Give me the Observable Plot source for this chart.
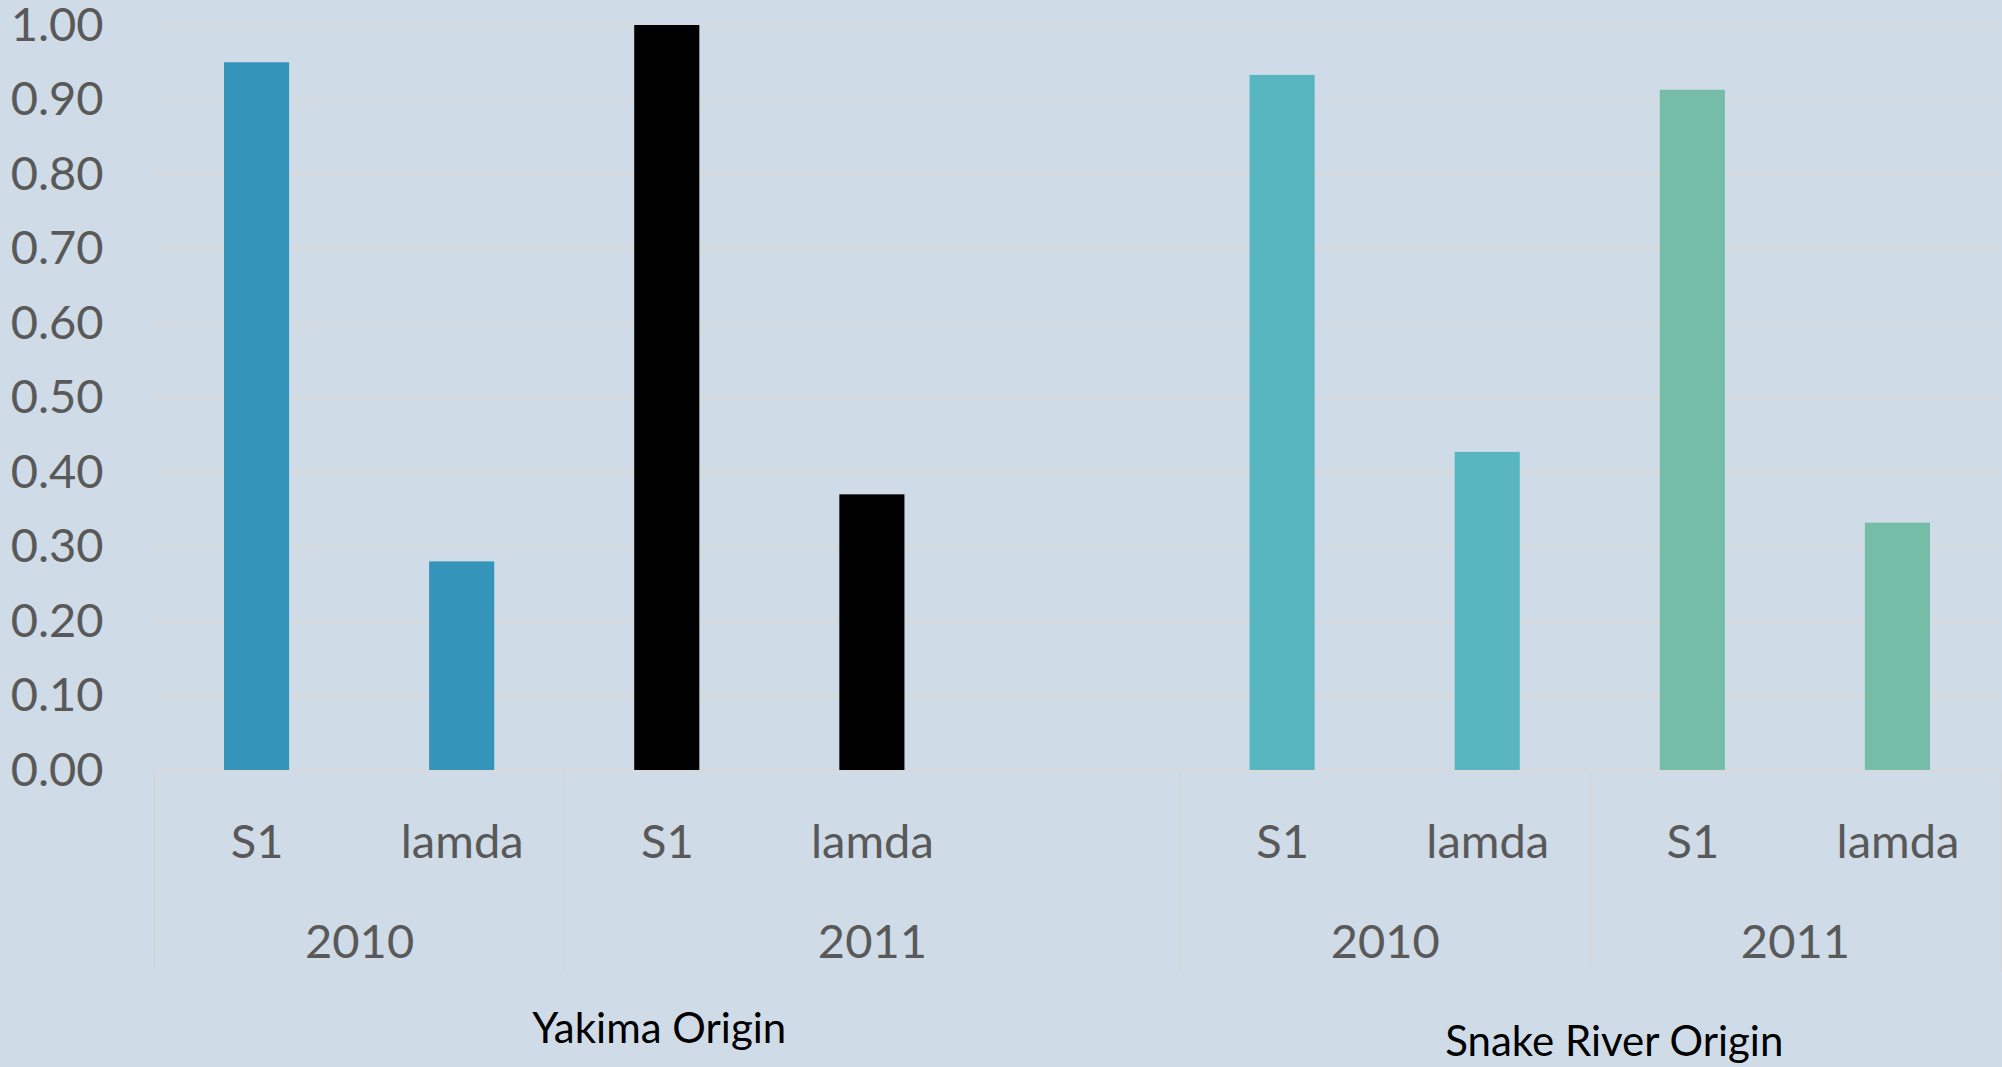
<!DOCTYPE html>
<html>
<head>
<meta charset="utf-8">
<script src="https://cdn.jsdelivr.net/npm/d3@7"></script>
<script src="https://cdn.jsdelivr.net/npm/@observablehq/plot@0.6"></script>
<style>
  html, body { margin: 0; padding: 0; background: #cfdbe6; }
  #chart { width: 2002px; height: 1067px; overflow: hidden; }
</style>
</head>
<body>
<div id="chart"></div>
<script>
// ---- data ----
const slotParam  = ["S1", "lamda", "S1", "lamda", "", "S1", "lamda", "S1", "lamda"];
const slotYear   = ["2010", "2010", "2011", "2011", "2011", "2010", "2010", "2011", "2011"];
const slotOrigin = ["Yakima Origin", "Yakima Origin", "Yakima Origin", "Yakima Origin", "Yakima Origin",
                    "Snake River Origin", "Snake River Origin", "Snake River Origin", "Snake River Origin"];
const slotValue  = [0.95, 0.28, 1.00, 0.37, null, 0.933, 0.427, 0.913, 0.332];
const yTicks     = [0.00, 0.10, 0.20, 0.30, 0.40, 0.50, 0.60, 0.70, 0.80, 0.90, 1.00];
const seriesKeys = ["Yakima Origin 2010", "Yakima Origin 2011", "Snake River Origin 2010", "Snake River Origin 2011"];

// ---- styles (kept apart from data) ----
const seriesColors = ["#3494ba", "#000000", "#58b6c0", "#75bda7"];
const originLayout = { "Yakima Origin": { dx: -8, dy: 259 }, "Snake River Origin": { dx: 24, dy: 272 } };

// ---- derived tables ----
const slots = slotParam.map((p, i) => ({
  slot: i, param: p, year: slotYear[i], origin: slotOrigin[i],
  value: slotValue[i], series: slotOrigin[i] + " " + slotYear[i]
}));
const bars = slots.filter(d => d.value != null);

function runs(keyFn) {
  const out = [];
  slots.forEach((d, i) => {
    const k = keyFn(d);
    if (out.length && out[out.length - 1].key === k) out[out.length - 1].end = i + 1;
    else out.push({ key: k, start: i, end: i + 1, year: d.year, origin: d.origin });
  });
  return out;
}
const yearGroups = runs(d => d.origin + "|" + d.year);
const originGroups = runs(d => d.origin);
const boundaries = Array.from(new Set(yearGroups.flatMap(g => [g.start, g.end])));

const font = "Lato, 'Noto Sans', sans-serif";
const belowY = -0.271; // separator depth below baseline (in y units)

const marks = [
  Plot.ruleY(yTicks, { y: d => d, stroke: "#d9d9d9", strokeWidth: 2 }),
  Plot.ruleX(boundaries, { x: d => d, y1: 0, y2: belowY, stroke: "#d3d6d9", strokeWidth: 1.6 }),
  Plot.rectY(bars, { x: "slot", interval: 1, y: "value", fill: "series", insetLeft: 70, insetRight: 70 }),
  Plot.axisY(yTicks, { tickFormat: d3.format(".2f"), tickSize: 0, tickPadding: 51, label: null,
                       fontSize: 47, fill: "#595959", fontFamily: font }),
  Plot.text(slots.filter(d => d.param), { x: d => d.slot + 0.5, y: () => 0, text: "param",
    dy: 72, fontSize: 47, fill: "#595959", fontFamily: font, textAnchor: "middle" }),
  Plot.text(yearGroups, { x: d => (d.start + d.end) / 2, y: () => 0, text: "year",
    dy: 172, fontSize: 47, fill: "#595959", fontFamily: font, textAnchor: "middle" })
];
originGroups.forEach(g => {
  const L = originLayout[g.origin];
  marks.push(Plot.text([g], { x: d => (d.start + d.end) / 2, y: () => 0, text: "origin",
    dx: L.dx, dy: L.dy, fontSize: 42, fill: "#000000", fontFamily: font, textAnchor: "middle" }));
});

const chart = Plot.plot({
  width: 2002,
  height: 1067,
  marginLeft: 154,
  marginRight: 2,
  marginTop: 25,
  marginBottom: 297,
  style: { background: "transparent", fontFamily: font, overflow: "visible" },
  x: { type: "linear", domain: [0, 9], axis: null },
  y: { domain: [0, 1], axis: null },
  color: { type: "ordinal", domain: seriesKeys, range: seriesColors },
  marks
});
document.getElementById("chart").appendChild(chart);
</script>
</body>
</html>
